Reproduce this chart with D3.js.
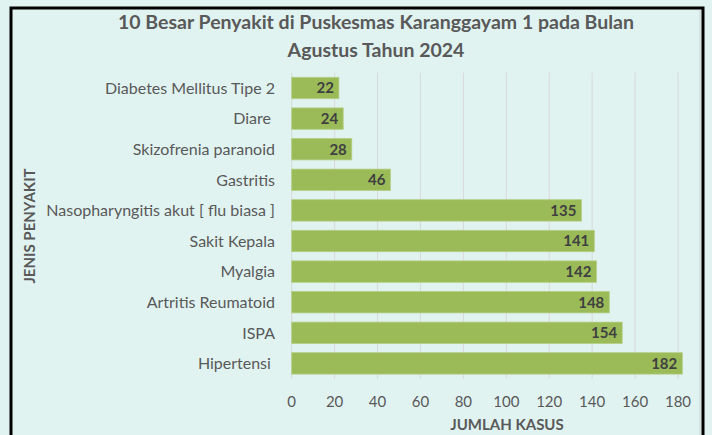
<!DOCTYPE html>
<html>
<head>
<meta charset="utf-8">
<script src="https://cdn.jsdelivr.net/npm/d3@7"></script>
<style>
  body { margin: 0; background: #e0f3f1; }
  svg { display: block; font-family: Lato, "Open Sans", sans-serif; }
  .tick-label { fill: #595959; font-size: 15px; }
  .cat-label { fill: #595959; font-size: 16px; }
  .value-label { fill: #404040; font-size: 15px; font-weight: bold; }
  .axis-title { fill: #595959; font-size: 15px; font-weight: bold; }
  .chart-title { fill: #595959; font-size: 19.5px; font-weight: bold; }
</style>
</head>
<body>
<div id="chart"></div>
<script>
var categories = [
    'Diabetes Mellitus Tipe 2',
    'Diare ',
    'Skizofrenia paranoid',
    'Gastritis',
    'Nasopharyngitis akut [ flu biasa ]',
    'Sakit Kepala',
    'Myalgia',
    'Artritis Reumatoid',
    'ISPA',
    'Hipertensi '
];
var values = [22, 24, 28, 46, 135, 141, 142, 148, 154, 182];
var xTicks = [0, 20, 40, 60, 80, 100, 120, 140, 160, 180];
var titleLines = ['10 Besar Penyakit di Puskesmas Karanggayam 1 pada Bulan', 'Agustus Tahun 2024'];

var width = 712, height = 435;

var svg = d3.select('#chart')
    .append('svg')
    .attr('width', width)
    .attr('height', height);

svg.append('rect')
    .attr('width', width)
    .attr('height', height)
    .style('fill', '#e0f3f1');

// outer frame
svg.append('rect')
    .attr('x', 11)
    .attr('y', 8)
    .attr('width', 692)
    .attr('height', 440)
    .style('fill', 'none')
    .style('stroke', '#000')
    .style('stroke-width', 3);

svg.append('line')
    .attr('x1', 700).attr('x2', 700)
    .attr('y1', 10).attr('y2', 435)
    .style('stroke', '#c8d4d3')
    .style('stroke-width', 1);

var x = d3.scaleLinear()
    .domain([0, 180])
    .range([291.7, 678]);

var y = d3.scaleBand()
    .domain(categories)
    .range([72.7, 378.7])
    .paddingInner(0.3)
    .paddingOuter(0.15);

// gridlines
svg.selectAll('.grid')
    .data(xTicks)
    .enter().append('line')
    .attr('class', 'grid')
    .attr('x1', function(d) { return x(d); })
    .attr('x2', function(d) { return x(d); })
    .attr('y1', 72.7)
    .attr('y2', 378.7)
    .style('stroke', '#d9d9d9')
    .style('stroke-width', 1);

// tick labels
svg.selectAll('.tick-label')
    .data(xTicks)
    .enter().append('text')
    .attr('class', 'tick-label')
    .attr('x', function(d) { return x(d); })
    .attr('y', 407)
    .attr('text-anchor', 'middle')
    .text(function(d) { return d; });

// bars
svg.selectAll('.bar')
    .data(values)
    .enter().append('rect')
    .attr('class', 'bar')
    .attr('x', x(0))
    .attr('y', function(d, i) { return y(categories[i]); })
    .attr('width', function(d) { return x(d) - x(0); })
    .attr('height', y.bandwidth())
    .style('fill', '#9bbb59')
    .style('stroke', '#b5cf84')
    .style('stroke-width', 0.8);

svg.selectAll('.value-label')
    .data(values)
    .enter().append('text')
    .attr('class', 'value-label')
    .attr('x', function(d) { return x(d) - 5; })
    .attr('y', function(d, i) { return y(categories[i]) + y.bandwidth() / 2; })
    .attr('dy', '0.36em')
    .attr('text-anchor', 'end')
    .text(function(d) { return d; });

// category labels
svg.selectAll('.cat-label')
    .data(categories)
    .enter().append('text')
    .attr('class', 'cat-label')
    .attr('x', 275)
    .attr('y', function(d) { return y(d) + y.bandwidth() / 2; })
    .attr('dy', '0.36em')
    .attr('text-anchor', 'end')
    .attr('xml:space', 'preserve')
    .text(function(d) { return d; });

// axis titles
svg.append('text')
    .attr('class', 'axis-title')
    .attr('transform', 'translate(30,226) rotate(-90)')
    .attr('text-anchor', 'middle')
    .attr('dy', '0.36em')
    .text('JENIS PENYAKIT');

svg.append('text')
    .attr('class', 'axis-title')
    .attr('x', 507)
    .attr('y', 430)
    .attr('text-anchor', 'middle')
    .text('JUMLAH KASUS');

// title
svg.selectAll('.chart-title')
    .data(titleLines)
    .enter().append('text')
    .attr('class', 'chart-title')
    .attr('x', 376)
    .attr('y', function(d, i) { return 28.5 + i * 28; })
    .attr('text-anchor', 'middle')
    .text(function(d) { return d; });
</script>
</body>
</html>
